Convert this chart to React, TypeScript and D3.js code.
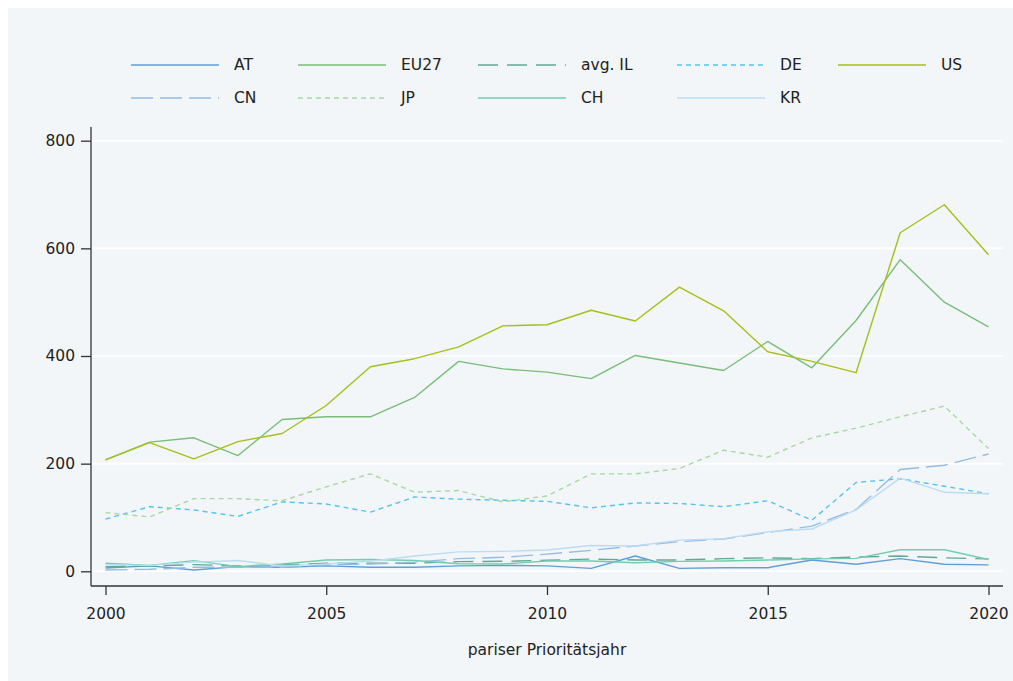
import React, { useRef, useEffect } from 'react';
import * as d3 from 'd3';

const years = d3.range(2000, 2021);
const seriesNames = ['AT', 'EU27', 'avg. IL', 'DE', 'US', 'CN', 'JP', 'CH', 'KR'];

const AT = [6, 10, 2.5, 8.7, 7.4, 10, 7.4, 7.4, 10, 11, 10, 5.5, 28.4, 5.5, 6.7, 6.7, 21, 13, 23.5, 13, 12];
const EU27 = [207, 240, 248, 215, 282, 287, 287, 323, 390, 376, 370, 358, 401, 387, 373, 427, 378, 466, 579, 500, 454];
const avgIL = [8.7, 10, 12.4, 10, 11.8, 15, 15, 15, 18, 18.6, 20.4, 22.8, 21, 21, 23.5, 25, 23.5, 26.5, 28.4, 25, 23];
const DE = [97, 120, 114, 102, 129, 125, 110, 138, 134, 132, 130, 118, 127, 126, 120, 131, 95, 165, 172, 158, 144];
const US = [207, 239, 209, 241, 256, 308, 380, 395, 417, 456, 458, 485, 465, 528, 484, 408, 390, 369, 629, 681, 588];
const CN = [2.5, 3.7, 7.4, 7.4, 7.4, 12, 13.6, 17, 23.5, 26, 32, 39, 47, 55, 60, 72, 84, 115, 189, 197, 218];
const JP = [109, 101, 135, 135, 131, 157, 181, 147, 150, 129, 140, 181, 181, 191, 225, 212, 248, 266, 287, 307, 228];
const CH = [15, 11, 19.8, 8.7, 13.6, 21, 22, 20, 14, 13.6, 19, 19, 16, 18.5, 19, 21, 23, 24, 40, 40, 22];
const KR = [12.4, 11, 17, 20, 10, 13.6, 18.6, 28.5, 36, 37, 39.6, 48, 47, 58, 60.6, 73.6, 78.6, 114, 173, 147, 144];

const seriesValues = [AT, EU27, avgIL, DE, US, CN, JP, CH, KR];
const yTicks = [0, 200, 400, 600, 800];
const xTicks = [2000, 2005, 2010, 2015, 2020];
const xTitle = 'pariser Prioritätsjahr';

const colors = ['#5e9fd8', '#78bd78', '#63a894', '#55c3ee', '#a6bf1a', '#95bde4', '#a8d8a2', '#72cdb0', '#bcdcf4'];
const dashes = [null, null, '20,9', '5,4', null, '22,7', '5,4', null, null];

export default function App() {
  const ref = useRef<SVGSVGElement>(null);

  useEffect(() => {
    const svg = d3.select(ref.current);
    svg.selectAll('*').remove();

    const width = 1005;
    const height = 673;
    const font = "'DejaVu Sans', sans-serif";
    // plot frame (svg coords, page minus 8px body margin)
    const axisX = 83;
    const axisY = 578;
    const plotRight = 995;
    const plotTop = 119;

    const x = d3.scaleLinear().domain([2000, 2020]).range([97.5, 980.5]);
    const y = d3.scaleLinear().domain([0, 800]).range([563.3, 132.7]);

    svg.attr('width', width).attr('height', height);
    svg.append('rect').attr('width', width).attr('height', height).attr('fill', '#f3f6f8');

    // gridlines
    svg.append('g')
      .selectAll('line')
      .data(yTicks)
      .join('line')
      .attr('x1', axisX)
      .attr('x2', plotRight)
      .attr('y1', d => y(d))
      .attr('y2', d => y(d))
      .attr('stroke', '#ffffff')
      .attr('stroke-width', 1.6);

    // series lines
    const line = d3.line<number>()
      .x((d, i) => x(years[i]))
      .y(d => y(d));

    svg.append('g')
      .selectAll('path')
      .data(seriesValues)
      .join('path')
      .attr('d', d => line(d))
      .attr('fill', 'none')
      .attr('stroke', (d, i) => colors[i])
      .attr('stroke-width', 1.4)
      .attr('stroke-dasharray', (d, i) => dashes[i])
      .attr('stroke-linejoin', 'round');

    // axes
    const xAxis = svg.append('g')
      .attr('transform', `translate(0, ${axisY})`)
      .call(d3.axisBottom(x).tickValues(xTicks).tickFormat(d3.format('d')).tickSize(9).tickPadding(13));
    xAxis.select('.domain').attr('d', `M${axisX},0H${plotRight}`);

    const yAxis = svg.append('g')
      .attr('transform', `translate(${axisX}, 0)`)
      .call(d3.axisLeft(y).tickValues(yTicks).tickSize(10).tickPadding(6));
    yAxis.select('.domain').attr('d', `M0,${plotTop}V${axisY}`);

    svg.selectAll('.tick text').attr('font-family', font).attr('font-size', 15.5).attr('fill', '#222');
    svg.selectAll('.domain, .tick line').attr('stroke', '#333').attr('stroke-width', 1.3);

    // axis title
    svg.append('text')
      .attr('x', (axisX + plotRight) / 2)
      .attr('y', 642)
      .attr('dominant-baseline', 'middle')
      .attr('text-anchor', 'middle')
      .attr('font-family', font)
      .attr('font-size', 15.5)
      .attr('fill', '#222')
      .text(xTitle);

    // legend, 5 columns
    const colX = [123, 290, 470, 669, 830];
    const rowY = [57, 90];
    const sampleLen = 88;
    const legend = svg.append('g')
      .selectAll('g')
      .data(seriesNames)
      .join('g')
      .attr('transform', (d, i) => `translate(${colX[i % 5]}, ${rowY[Math.floor(i / 5)]})`);

    legend.append('line')
      .attr('x1', 0)
      .attr('x2', sampleLen)
      .attr('stroke', (d, i) => colors[i])
      .attr('stroke-width', 1.6)
      .attr('stroke-dasharray', (d, i) => dashes[i]);

    legend.append('text')
      .attr('x', sampleLen + 15)
      .attr('dominant-baseline', 'middle')
      .attr('font-family', font)
      .attr('font-size', 15.5)
      .attr('fill', '#222')
      .text(d => d);
  }, []);

  return <svg ref={ref} style={{ display: 'block', position: 'fixed', left: 8, top: 8 }} />;
}
